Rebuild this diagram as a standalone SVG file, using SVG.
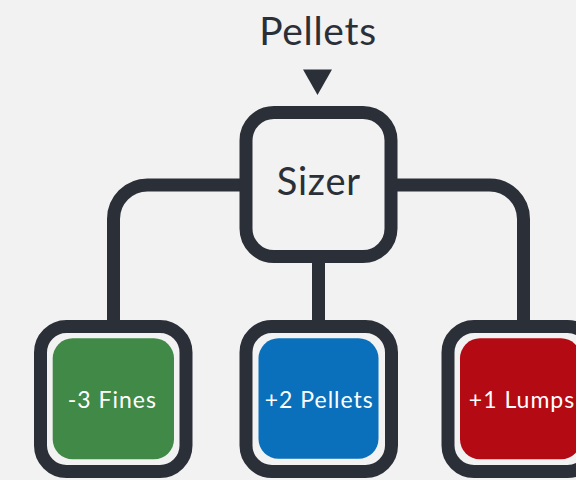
<svg xmlns="http://www.w3.org/2000/svg" width="576" height="480" viewBox="0 0 576 480">
<style>
.bg{fill:#f2f2f2}
.frame{fill:#f2f2f2;stroke:#2b2f38;stroke-width:13}
.conn{fill:none;stroke:#2b2f38;stroke-width:13}
.t{font-family:Lato,"Liberation Sans",sans-serif;text-anchor:middle}
.dark{fill:#2b2f38}
.light{fill:#ffffff;font-size:23px;letter-spacing:1px}
</style>
<rect class="bg" x="0" y="0" width="576" height="480"/>
<g id="connectors">
<path class="conn" d="M246,185 H147.5 A34,34 0 0 0 113.5,219 V327"/>
<path class="conn" d="M391,185 H489.5 A34,34 0 0 1 523.5,219 V327"/>
<path class="conn" d="M318.5,256 V327"/>
<polygon class="dark" points="303,69.5 332,69.5 317.5,95"/>
</g>
<g id="title">
<text class="t dark" x="318" y="45" font-size="39" letter-spacing="0.7">Pellets</text>
</g>
<g id="sizer">
<rect class="frame" x="246" y="112.5" width="145" height="144" rx="28"/>
<text class="t dark" x="318.8" y="195" font-size="38" letter-spacing="0.8">Sizer</text>
</g>
<g id="fines">
<rect class="frame" x="40.5" y="326.5" width="145.5" height="145" rx="26"/>
<rect x="52.7" y="338.3" width="121.3" height="121" rx="20" fill="#418947"/>
<text class="t light" x="112.3" y="407.5">-3 Fines</text>
</g>
<g id="pellets">
<rect class="frame" x="246" y="326.5" width="145.5" height="145" rx="26"/>
<rect x="258.5" y="338.3" width="120" height="120.5" rx="20" fill="#0a70bb"/>
<text class="t light" x="319.3" y="407.5">+2 Pellets</text>
</g>
<g id="lumps">
<rect class="frame" x="448" y="326.5" width="145.5" height="145" rx="26"/>
<rect x="460" y="338.3" width="121" height="121" rx="20" fill="#b40a13"/>
<text class="t light" x="522" y="407.5">+1 Lumps</text>
</g>
</svg>
